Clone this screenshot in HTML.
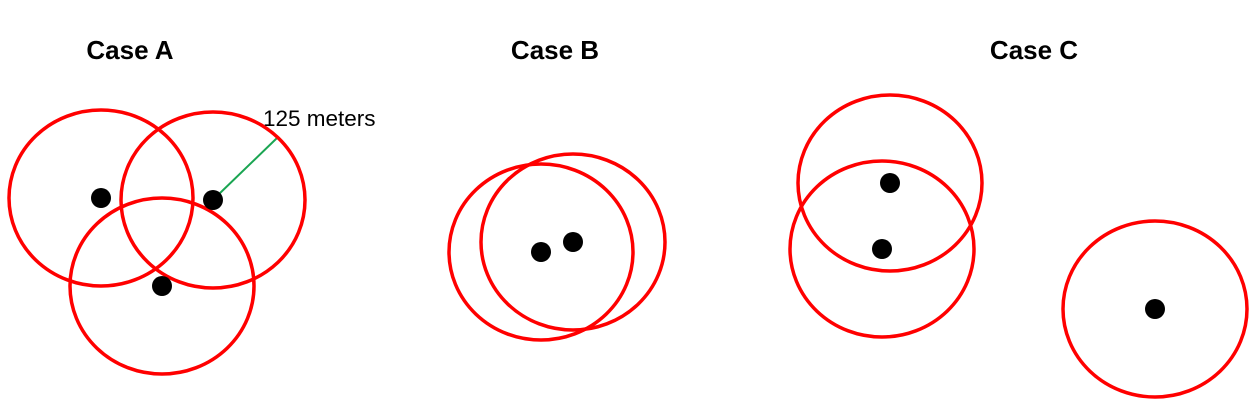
<!DOCTYPE html>
<html><head><meta charset="utf-8"><style>
html,body{margin:0;padding:0;background:#fff;}
svg{display:block;}
text{font-family:"Liberation Sans",Arial,sans-serif;}
</style></head><body>
<svg id="c" width="1258" height="410" viewBox="0 0 1258 410">
<text x="130" y="59" font-size="26" font-weight="bold" text-anchor="middle">Case A</text>
<text x="555" y="59" font-size="26" font-weight="bold" text-anchor="middle">Case B</text>
<text x="1034" y="59" font-size="26" font-weight="bold" text-anchor="middle">Case C</text>
<line x1="218" y1="195" x2="277" y2="138" stroke="#1aa552" stroke-width="2"/>
<text x="263" y="126" font-size="22.5">125 meters</text>
<g id="marks"></g>
</svg>
<script>
const pointX=[101,213,162,541,573,890,882,1155];
const pointY=[198,200,286,252,242,183,249,309];
const circleRx=92, circleRy=88;
const g=document.getElementById('marks');
const ns='http://www.w3.org/2000/svg';
for(let i=0;i<pointX.length;i++){
  const e=document.createElementNS(ns,'ellipse');
  e.setAttribute('cx',pointX[i]);e.setAttribute('cy',pointY[i]);
  e.setAttribute('rx',circleRx);e.setAttribute('ry',circleRy);
  e.setAttribute('fill','none');e.setAttribute('stroke','#ff0000');e.setAttribute('stroke-width','3.5');
  
  
  g.appendChild(e);
}
for(let i=0;i<pointX.length;i++){
  const d=document.createElementNS(ns,'circle');
  d.setAttribute('cx',pointX[i]);d.setAttribute('cy',pointY[i]);d.setAttribute('r',10);
  d.setAttribute('fill','#000');
  
  
  g.appendChild(d);
}
</script>
</body></html>
